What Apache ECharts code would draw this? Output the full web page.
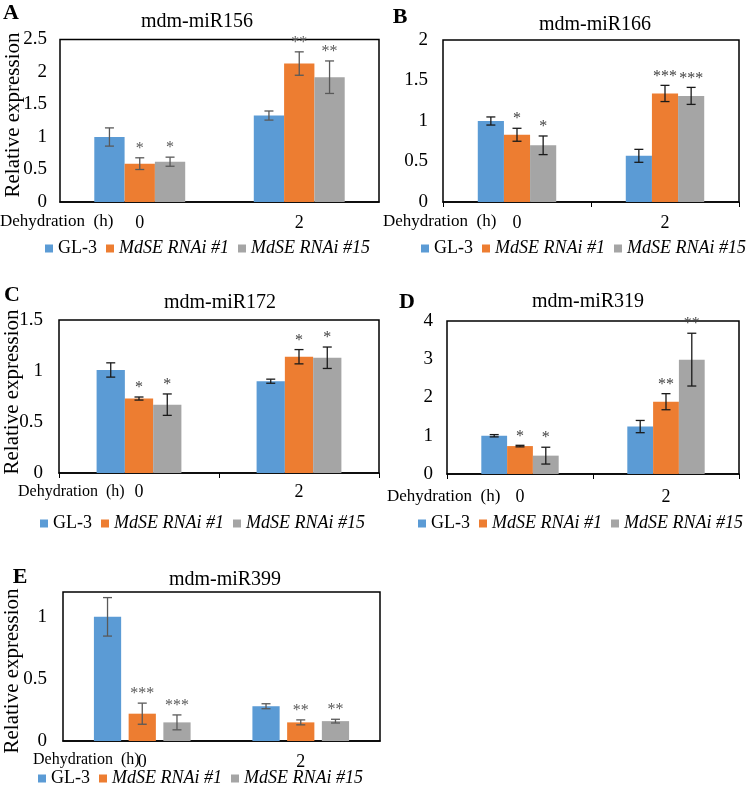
<!DOCTYPE html>
<html><head><meta charset="utf-8">
<script src="https://cdn.jsdelivr.net/npm/echarts/dist/echarts.min.js"></script>
<style>html,body{margin:0;padding:0;background:#fff}#c{width:747px;height:788px}</style>
</head><body><div id="c"></div><script>
// ---------- DATA ----------
const categories = ['0', '2'];
const seriesNames = ['GL-3', 'MdSE RNAi #1', 'MdSE RNAi #15'];
const titles = ['mdm-miR156', 'mdm-miR166', 'mdm-miR172', 'mdm-miR319', 'mdm-miR399'];
const letters = ['A', 'B', 'C', 'D', 'E'];

// rows: series (GL-3, #1, #15); columns: categories (0 h, 2 h)
const meanA = [[1.00, 1.33], [0.59, 2.13], [0.62, 1.92]];
const errA  = [[0.14, 0.07], [0.09, 0.18], [0.07, 0.25]];
const starsA = [['', ''], ['*', '**'], ['*', '**']];
const yTicksA = [0, 0.5, 1, 1.5, 2, 2.5];

const meanB = [[1.00, 0.57], [0.83, 1.34], [0.70, 1.31]];
const errB  = [[0.05, 0.08], [0.08, 0.10], [0.115, 0.105]];
const starsB = [['', ''], ['*', '***'], ['*', '***']];
const yTicksB = [0, 0.5, 1, 1.5, 2];

const meanC = [[1.01, 0.90], [0.73, 1.14], [0.67, 1.13]];
const errC  = [[0.07, 0.02], [0.015, 0.07], [0.105, 0.105]];
const starsC = [['', ''], ['*', '*'], ['*', '*']];
const yTicksC = [0, 0.5, 1, 1.5];

const meanD = [[1.00, 1.24], [0.73, 1.89], [0.48, 2.99]];
const errD  = [[0.03, 0.16], [0.02, 0.21], [0.22, 0.69]];
const starsD = [['', ''], ['*', '**'], ['*', '**']];
const yTicksD = [0, 1, 2, 3, 4];

const meanE = [[1.00, 0.28], [0.22, 0.15], [0.15, 0.16]];
const errE  = [[0.155, 0.02], [0.085, 0.02], [0.06, 0.015]];
const starsE = [['', ''], ['***', '**'], ['***', '**']];
const yTicksE = [0, 0.5, 1];
const yTopE = 1.2;

// ---------- STYLE / LAYOUT ----------
const FONT = '"Liberation Serif", "Times New Roman", serif';
const colors = ['#5B9BD5', '#ED7D31', '#A5A5A5'];

const panels = [
  {mean: meanA, err: errA, stars: starsA, ticks: yTicksA, top: yTicksA[yTicksA.length - 1]},
  {mean: meanB, err: errB, stars: starsB, ticks: yTicksB, top: yTicksB[yTicksB.length - 1]},
  {mean: meanC, err: errC, stars: starsC, ticks: yTicksC, top: yTicksC[yTicksC.length - 1]},
  {mean: meanD, err: errD, stars: starsD, ticks: yTicksD, top: yTicksD[yTicksD.length - 1]},
  {mean: meanE, err: errE, stars: starsE, ticks: yTicksE, top: yTopE}
];

const layouts = [
  {grid: {left: 60, top: 39.5, width: 319, height: 162.5}, gapCat: 43, gapBar: 0, tick: false,
   errColor: '#595959', starColor: '#595959', title: [197, 22], letter: [11, 13], ylab: [13, 115],
   dehyd: [0, 222], dehydSize: 17, catMargin: 12, yMargin: 13, legend: [45, 239]},
  {grid: {left: 443, top: 40, width: 296, height: 162}, gapCat: 47, gapBar: 0, tick: true,
   errColor: '#1a1a1a', starColor: '#404040', title: [595, 25], letter: [400, 17], ylab: null,
   dehyd: [383, 222], dehydSize: 17, catMargin: 12, yMargin: 15, legend: [421, 239]},
  {grid: {left: 59, top: 320, width: 320, height: 153}, gapCat: 47, gapBar: 0, tick: true,
   errColor: '#1a1a1a', starColor: '#404040', title: [220, 303], letter: [12, 295], ylab: [12, 392],
   dehyd: [18, 492], dehydSize: 16, catMargin: 10, yMargin: 16, legend: [40, 514]},
  {grid: {left: 447, top: 321, width: 292, height: 153}, gapCat: 47, gapBar: 0, tick: true,
   errColor: '#1a1a1a', starColor: '#404040', title: [588, 302], letter: [407, 302], ylab: null,
   dehyd: [387, 497], dehydSize: 17, catMargin: 14, yMargin: 14, legend: [418, 514]},
  {grid: {left: 63, top: 592, width: 317, height: 149}, gapCat: 39, gapBar: 27.5, tick: false,
   errColor: '#595959', starColor: '#595959', title: [225, 580], letter: [20, 577], ylab: [12, 671],
   dehyd: [33, 760], dehydSize: 16, catMargin: 12, yMargin: 16, legend: [38, 769]}
];

// ---------- OPTION ----------
const grid = [], xAxis = [], yAxis = [], series = [], legend = [], graphic = [];

panels.forEach((P, p) => {
  const L = layouts[p];
  grid.push(Object.assign({show: true, borderColor: '#000', borderWidth: 1.5, backgroundColor: 'transparent'}, L.grid));
  xAxis.push({
    type: 'category', gridIndex: p, data: categories,
    axisLine: {lineStyle: {color: '#000', width: 1.5}},
    axisTick: {show: L.tick, length: 5, lineStyle: {color: '#000', width: 1}},
    axisLabel: {fontFamily: FONT, fontSize: 18, color: '#000', margin: L.catMargin}
  });
  const step = P.ticks[1] - P.ticks[0];
  yAxis.push({
    type: 'value', gridIndex: p, min: 0, max: P.top, interval: step,
    axisLine: {show: false}, axisTick: {show: false}, splitLine: {show: false},
    axisLabel: {
      fontFamily: FONT, fontSize: 19, color: '#000', margin: L.yMargin,
      formatter: v => P.ticks.some(t => Math.abs(t - v) < 1e-6) ? String(+v.toFixed(2)) : ''
    }
  });
  seriesNames.forEach((name, si) => {
    series.push({
      name, type: 'bar', xAxisIndex: p, yAxisIndex: p,
      data: P.mean[si], itemStyle: {color: colors[si]},
      barGap: L.gapBar + '%', barCategoryGap: L.gapCat + '%',
      silent: true, z: 2
    });
  });
  const items = [];
  P.mean.forEach((row, si) => row.forEach((m, ci) => items.push([ci, si, m, P.err[si][ci]])));
  series.push({
    type: 'custom', xAxisIndex: p, yAxisIndex: p, z: 5, silent: true,
    data: items, encode: {x: 0, y: 2},
    renderItem: (params, api) => {
      const ci = api.value(0), si = api.value(1), m = api.value(2), e = api.value(3);
      const band = api.size([1, 0])[0];
      const gc = L.gapCat / 100, gb = L.gapBar / 100;
      const w = (band - band * gc) / (3 + 2 * gb);
      const total = 3 * w + 2 * w * gb;
      const c = api.coord([ci, m]);
      const x = c[0] - total / 2 + si * w * (1 + gb) + w / 2;
      const yt = api.coord([ci, m + e])[1], yb = api.coord([ci, m - e])[1];
      const ls = {stroke: L.errColor, lineWidth: 1.3};
      const cap = 4.5;
      const star = P.stars[si][ci];
      return {type: 'group', children: [
        {type: 'line', shape: {x1: x, y1: yt, x2: x, y2: yb}, style: ls},
        {type: 'line', shape: {x1: x - cap, y1: yt, x2: x + cap, y2: yt}, style: ls},
        {type: 'line', shape: {x1: x - cap, y1: yb, x2: x + cap, y2: yb}, style: ls},
        {type: 'text', style: {text: star, x: x, y: yt - 1, align: 'center', verticalAlign: 'bottom',
          font: '16px ' + FONT, fill: L.starColor}}
      ]};
    }
  });
  const fs = 18;
  legend.push({
    data: seriesNames, left: L.legend[0], top: L.legend[1], width: 340, icon: 'rect',
    itemWidth: 8, itemHeight: 8, itemGap: 9, padding: 0, selectedMode: false,
    textStyle: {fontFamily: FONT, fontSize: fs, color: '#000', lineHeight: 19,
      rich: {n: {fontFamily: FONT, fontSize: fs, color: '#000'},
             i: {fontFamily: FONT, fontSize: fs, color: '#000', fontStyle: 'italic'}}},
    formatter: n => n === 'GL-3' ? '{n|' + n + '}' : '{i|' + n + '}'
  });
  graphic.push({type: 'text', x: L.title[0], y: L.title[1],
    style: {text: titles[p], font: '20px ' + FONT, fill: '#000', align: 'center', verticalAlign: 'middle'}});
  graphic.push({type: 'text', x: L.letter[0], y: L.letter[1],
    style: {text: letters[p], font: 'bold 22px ' + FONT, fill: '#000', align: 'center', verticalAlign: 'middle'}});
  graphic.push({type: 'text', x: L.dehyd[0], y: L.dehyd[1],
    style: {text: 'Dehydration  (h)', font: L.dehydSize + 'px ' + FONT, fill: '#000', align: 'left', verticalAlign: 'middle'}});
  if (L.ylab) {
    graphic.push({type: 'text', x: L.ylab[0], y: L.ylab[1], rotation: Math.PI / 2,
      style: {text: 'Relative expression', font: '21px ' + FONT, fill: '#000', align: 'center', verticalAlign: 'middle'}});
  }
});

const chart = echarts.init(document.getElementById('c'), null, {renderer: 'canvas'});
chart.setOption({animation: false, backgroundColor: '#fff', grid, xAxis, yAxis, series, legend, graphic});
</script></body></html>
